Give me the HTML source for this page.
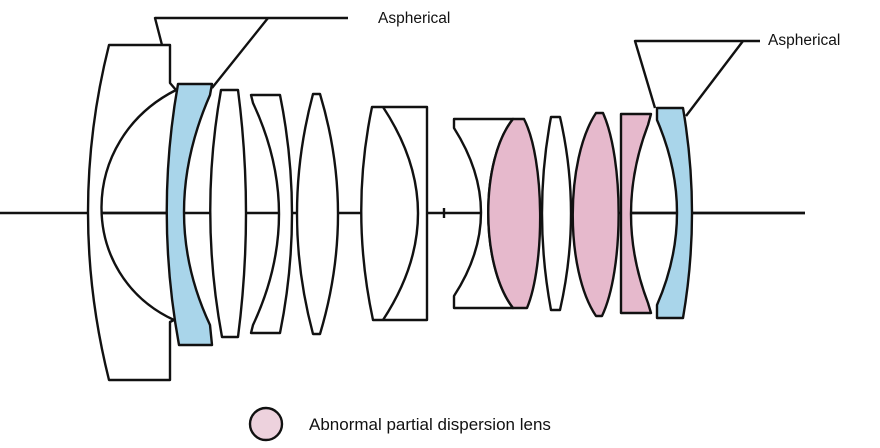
<!DOCTYPE html>
<html><head><meta charset="utf-8"><style>html,body{margin:0;padding:0;background:#fff}svg{display:block}</style></head>
<body>
<svg width="880" height="448" viewBox="0 0 880 448" xmlns="http://www.w3.org/2000/svg">
<g fill="none" stroke="#111" stroke-width="2.4" stroke-linejoin="round">
<polyline points="162,45 155,18 348,18"/>
<line x1="268" y1="18" x2="212" y2="88"/>
<polyline points="655,108 635,41 760,41"/>
<line x1="743" y1="41" x2="686" y2="116"/>
<line x1="0" y1="213" x2="805" y2="213"/>
<line x1="444" y1="208" x2="444" y2="218"/>
<path fill="#fff" d="M109,45 L170,45 L170,83 L176,90 C77,140 77,275 174,320 L170,322 L170,380 L109,380 Q67,212 109,45 Z"/>
<line x1="101" y1="213" x2="168" y2="213"/>
<path fill="#a9d5ea" d="M178,84 L212,84 L210,95 Q158,214 210,325 L212,345 L179,345 Q155,214 178,84 Z"/>
<path fill="#fff" d="M221,90 L238,90 Q254,213 238,337 L222,337 Q199,213 221,90 Z"/>
<path fill="#fff" d="M251,95 L280,95 Q304,214 280,333 L251,333 L253,325 Q305,214 253,103 Z"/>
<path fill="#fff" d="M313,94 L320,94 Q356,214 320,334 L313,334 Q281,214 313,94 Z"/>
<path fill="#fff" d="M372,107 L427,107 L427,320 L373,320 Q350,213 372,107 Z"/>
<path d="M383,107 Q453,213 383,320"/>
<path fill="#fff" d="M454,119 L513,119 C480,160 480,265 513,308 L454,308 L454,296 Q508,213 454,128 Z"/>
<path fill="#e6b9cc" d="M513,119 L524,119 C545,160 545,265 527,308 L513,308 C480,265 480,160 513,119 Z"/>
<path fill="#fff" d="M551,117 L560,117 Q582,213 560,310 L551,310 Q533,213 551,117 Z"/>
<path fill="#e6b9cc" d="M596,113 L603,113 C624,160 624,270 602,316 L596,316 C565,270 565,160 596,113 Z"/>
<path fill="#e6b9cc" d="M621,114 L651,114 L648,125 Q614,214 648,303 L651,313 L621,313 Z"/>
<path fill="#a9d5ea" d="M657,108 L683,108 Q701,213 683,318 L657,318 L657,305 Q697,213 657,120 Z"/>
<line x1="631" y1="213" x2="676" y2="213"/>
<line x1="692" y1="213" x2="805" y2="213"/>
<circle cx="266" cy="424" r="16" fill="#edd2dd"/>
</g>
<g font-family="Liberation Sans, Arial, sans-serif" fill="#111">
<text x="378" y="23" font-size="15.5">Aspherical</text>
<text x="768" y="45" font-size="15.5">Aspherical</text>
<text x="309" y="430" font-size="17">Abnormal partial dispersion lens</text>
</g>
</svg>
</body></html>
